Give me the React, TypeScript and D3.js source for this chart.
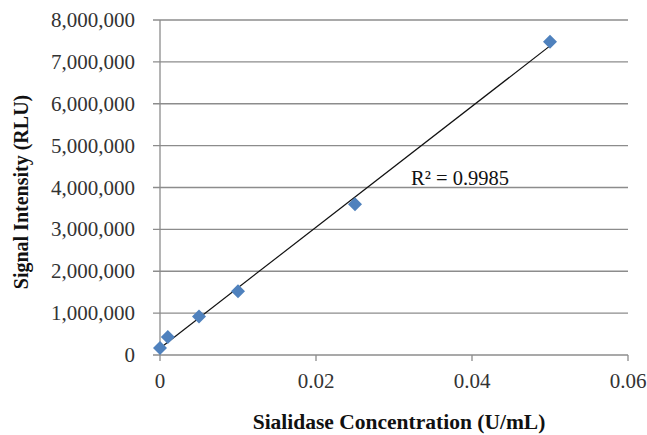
import React, { useEffect, useRef } from "react";
import * as d3 from "d3";

// sialidase concentration (U/mL) vs signal (RLU)
const concentrations = [0, 0.001, 0.005, 0.01, 0.025, 0.05];
const signals = [165000, 430000, 920000, 1520000, 3600000, 7480000];
const xTicks = [0, 0.02, 0.04, 0.06];
const yTicks = [0, 1000000, 2000000, 3000000, 4000000, 5000000, 6000000, 7000000, 8000000];
const r2Label = "R² = 0.9985";

const W = 647;
const H = 435;
const margin = { top: 20, right: 19, bottom: 80, left: 160 };

const App = () => {
  const ref = useRef<SVGSVGElement>(null);

  useEffect(() => {
    const svg = d3.select(ref.current);
    svg.selectAll("*").remove();

    const x = d3.scaleLinear().domain([0, 0.06]).range([margin.left, W - margin.right]);
    const y = d3.scaleLinear().domain([0, 8000000]).range([H - margin.bottom, margin.top]);

    const font = "'Liberation Serif', 'Times New Roman', serif";

    // horizontal gridlines
    svg
      .append("g")
      .selectAll("line")
      .data(yTicks)
      .join("line")
      .attr("x1", margin.left - 7)
      .attr("x2", W - margin.right)
      .attr("y1", (d) => y(d))
      .attr("y2", (d) => y(d))
      .attr("stroke", "#8c8c8c")
      .attr("stroke-width", 1.3);

    // y axis line
    svg
      .append("line")
      .attr("x1", x(0))
      .attr("x2", x(0))
      .attr("y1", y(8000000))
      .attr("y2", y(0))
      .attr("stroke", "#8c8c8c")
      .attr("stroke-width", 1.3);

    // x tick marks
    svg
      .append("g")
      .selectAll("line")
      .data(xTicks)
      .join("line")
      .attr("x1", (d) => x(d))
      .attr("x2", (d) => x(d))
      .attr("y1", y(0))
      .attr("y2", y(0) + 6)
      .attr("stroke", "#8c8c8c")
      .attr("stroke-width", 1.3);

    const fmt = d3.format(",");
    svg
      .append("g")
      .selectAll("text")
      .data(yTicks)
      .join("text")
      .attr("x", 135)
      .attr("y", (d) => y(d) + 7)
      .attr("text-anchor", "end")
      .attr("font-family", font)
      .attr("font-size", 21)
      .attr("fill", "#333")
      .text((d) => fmt(d));

    svg
      .append("g")
      .selectAll("text")
      .data(xTicks)
      .join("text")
      .attr("x", (d) => x(d))
      .attr("y", 388)
      .attr("text-anchor", "middle")
      .attr("font-family", font)
      .attr("font-size", 21)
      .attr("fill", "#333")
      .text((d) => (d === 0 ? "0" : d3.format(".2f")(d)));

    // axis titles
    svg
      .append("text")
      .attr("x", 399)
      .attr("y", 429)
      .attr("text-anchor", "middle")
      .attr("font-family", font)
      .attr("font-weight", "bold")
      .attr("font-size", 21.5)
      .attr("fill", "#111")
      .text("Sialidase Concentration (U/mL)");

    svg
      .append("text")
      .attr("transform", `translate(28, 192) rotate(-90)`)
      .attr("text-anchor", "middle")
      .attr("font-family", font)
      .attr("font-weight", "bold")
      .attr("font-size", 20)
      .attr("fill", "#111")
      .text("Signal Intensity (RLU)");

    // linear trendline (least squares)
    const mx = d3.mean(concentrations) as number;
    const my = d3.mean(signals) as number;
    let sxy = 0;
    let sxx = 0;
    concentrations.forEach((c, i) => {
      sxy += (c - mx) * (signals[i] - my);
      sxx += (c - mx) * (c - mx);
    });
    const slope = sxy / sxx;
    const icpt = my - slope * mx;
    const x0 = d3.min(concentrations) as number;
    const x1 = d3.max(concentrations) as number;
    svg
      .append("line")
      .attr("x1", x(x0))
      .attr("y1", y(icpt + slope * x0))
      .attr("x2", x(x1))
      .attr("y2", y(icpt + slope * x1))
      .attr("stroke", "#111")
      .attr("stroke-width", 1.2);

    // markers
    const diamond = d3.symbol().type(d3.symbolDiamond2).size(125);
    svg
      .append("g")
      .selectAll("path")
      .data(concentrations)
      .join("path")
      .attr("d", diamond)
      .attr("transform", (d, i) => `translate(${x(d)}, ${y(signals[i])})`)
      .attr("fill", "#4f81bd");

    svg
      .append("text")
      .attr("x", 411)
      .attr("y", 185)
      .attr("font-family", font)
      .attr("font-size", 20.5)
      .attr("fill", "#111")
      .text(r2Label);
  }, []);

  return (
    <div style={{ position: "absolute", left: 0, top: 0 }}>
      <svg ref={ref} width={W} height={H} style={{ display: "block", background: "#fff" }}></svg>
    </div>
  );
};

export default App;
